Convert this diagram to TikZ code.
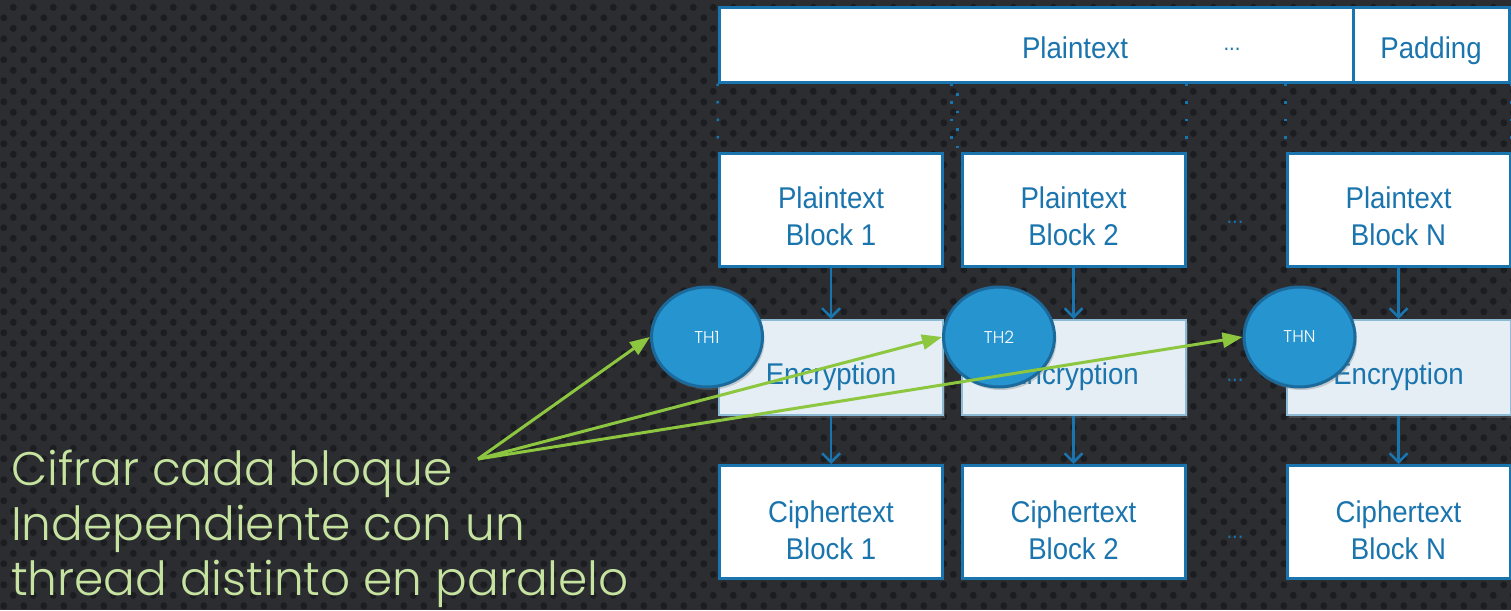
\documentclass[tikz,border=0pt]{standalone}
\usepackage{fontspec}
\setmainfont{Liberation Sans}
\newfontfamily\boxfont[FakeStretch=0.92]{Liberation Sans}
\newfontfamily\geofont{Poppins}[UprightFont={* Light}]
\usetikzlibrary{arrows.meta,shapes.geometric,shadows,patterns}

\definecolor{bgdark}{HTML}{2B2D31}
\definecolor{bgdot}{HTML}{1B1D20}
\definecolor{boxblue}{HTML}{1A74AD}
\definecolor{encfill}{HTML}{E4EEF4}
\definecolor{encline}{HTML}{8DBAD4}
\definecolor{thfill}{HTML}{2594CF}
\definecolor{thline}{HTML}{1C6A9B}
\definecolor{arrowgreen}{HTML}{8DC63F}
\definecolor{textgreen}{HTML}{C6E3A0}

% staggered round perforations
\pgfdeclarepatternformonly{perforated}{\pgfpointorigin}{\pgfpoint{20pt}{21.4pt}}{\pgfpoint{20pt}{21.4pt}}{%
  \pgfpathcircle{\pgfpoint{5pt}{5.35pt}}{3.6pt}%
  \pgfpathcircle{\pgfpoint{15pt}{16.05pt}}{3.6pt}%
  \pgfusepath{fill}}

% centred lines of box text with #1 of extra room above (lowers the text by half of it)
\newcommand\boxlines[2]{\raisebox{0pt}[\dimexpr\height+#1\relax][\depth]{\begin{tabular}{@{}c@{}}#2\end{tabular}}}

\tikzset{
  boxtext/.style={font=\boxfont\fontsize{30}{37}\selectfont, text=boxblue, align=center},
  blk/.style={boxtext, draw=boxblue, line width=3pt, fill=white,
    minimum width=223pt, minimum height=113pt, inner sep=0pt},
  bar/.style={blk, minimum height=74pt},
  enc/.style={boxtext, draw=encline, line width=2pt, fill=encfill,
    minimum width=224pt, minimum height=95pt, inner sep=0pt,
    drop shadow={opacity=0.35, shadow xshift=2pt, shadow yshift=-3pt}},
  thread/.style={ellipse, draw=thline, line width=3pt, fill=thfill,
    minimum width=111pt, minimum height=100pt, inner sep=0pt,
    text=white, font=\geofont\fontsize{17}{20}\selectfont,
    drop shadow={opacity=0.35, shadow xshift=2pt, shadow yshift=-3pt}},
  gap/.style={boxtext, font=\boxfont\fontsize{22}{24}\selectfont},
  flow/.style={draw=boxblue, line width=2.5pt, -{Straight Barb[length=9pt,width=18pt,line width=2.5pt]}},
  guide/.style={draw=boxblue, line width=2.5pt, dash pattern=on 2.5pt off 15pt},
  pointer/.style={draw=arrowgreen, line width=3pt, -{Triangle[length=20pt,width=15pt]}},
  note/.style={font=\geofont\fontsize{47}{55}\selectfont, text=textgreen,
    align=left, inner sep=0pt}
}

\begin{document}
\begin{tikzpicture}[x=1pt, y=-1pt]
\useasboundingbox (0,0) rectangle (1511,610);

% perforated dark background
\fill[bgdark] (0,0) rectangle (1511,610);
\fill[pattern=perforated, pattern color=bgdot] (0,0) rectangle (1511,610);

% message bar
\node[bar, minimum width=634pt] (msg) at (1036,45) {};
\node[bar, minimum width=156pt] (pad) at (1431,45) {\boxlines{12pt}{Padding}};
\node[boxtext] (msgtxt) at (1075,48) {Plaintext};
\node[gap] (msgdots) at (1232,49) {...};

% plaintext blocks
\node[blk] (p1) at (831,209.5) {\boxlines{21pt}{Plaintext\\Block 1}};
\node[blk] (p2) at (1073.5,209.5) {\boxlines{21pt}{Plaintext\\Block 2}};
\node[blk] (pn) at (1398.5,209.5) {\boxlines{21pt}{Plaintext\\Block N}};
\node[gap] (pdots) at (1235,222) {...};

% split guides
\draw[guide] (msg.south west) -- (p1.north west);
\draw[guide] ([xshift=-9pt]p2.north west |- msg.south) -- ([xshift=-9pt]p2.north west);
\draw[guide, dash phase=8pt] ([xshift=-3pt]p2.north west |- msg.south) -- ([xshift=-3pt]p2.north west);
\draw[guide] (p2.north east |- msg.south) -- (p2.north east);
\draw[guide] (pn.north west |- msg.south) -- (pn.north west);
\draw[guide] (pn.north east |- msg.south) -- (pn.north east);

% encryption stage
\node[enc] (e1) at (831,367.5) {\boxlines{20pt}{Encryption}};
\node[enc] (e2) at (1073.5,367.5) {\boxlines{20pt}{Encryption}};
\node[enc] (en) at (1398.5,367.5) {\boxlines{20pt}{Encryption}};
\node[gap] (edots) at (1235,380) {...};

% ciphertext blocks
\node[blk] (c1) at (831,522) {\boxlines{23pt}{Ciphertext\\Block 1}};
\node[blk] (c2) at (1073.5,522) {\boxlines{23pt}{Ciphertext\\Block 2}};
\node[blk] (cn) at (1398.5,522) {\boxlines{23pt}{Ciphertext\\Block N}};
\node[gap] (cdots) at (1235,537) {...};

% block flow
\draw[flow] (p1) -- (e1);
\draw[flow] (p2) -- (e2);
\draw[flow] (pn) -- (en);
\draw[flow] (e1) -- (c1);
\draw[flow] (e2) -- (c2);
\draw[flow] (en) -- (cn);

% worker threads
\node[thread] (th1) at (707,337) {TH1};
\node[thread] (th2) at (999,337) {TH2};
\node[thread] (thn) at (1299.5,337) {THN};

% explanatory note
\node[note, anchor=north west] (txt) at (11,450)
  {Cifrar cada bloque\\Independiente con un\\thread distinto en paralelo};
\coordinate (src) at (478,459);
\draw[pointer] (src) -- (th1.west);
\draw[pointer] (src) -- (th2.west);
\draw[pointer] (src) -- (thn.west);
\end{tikzpicture}
\end{document}
